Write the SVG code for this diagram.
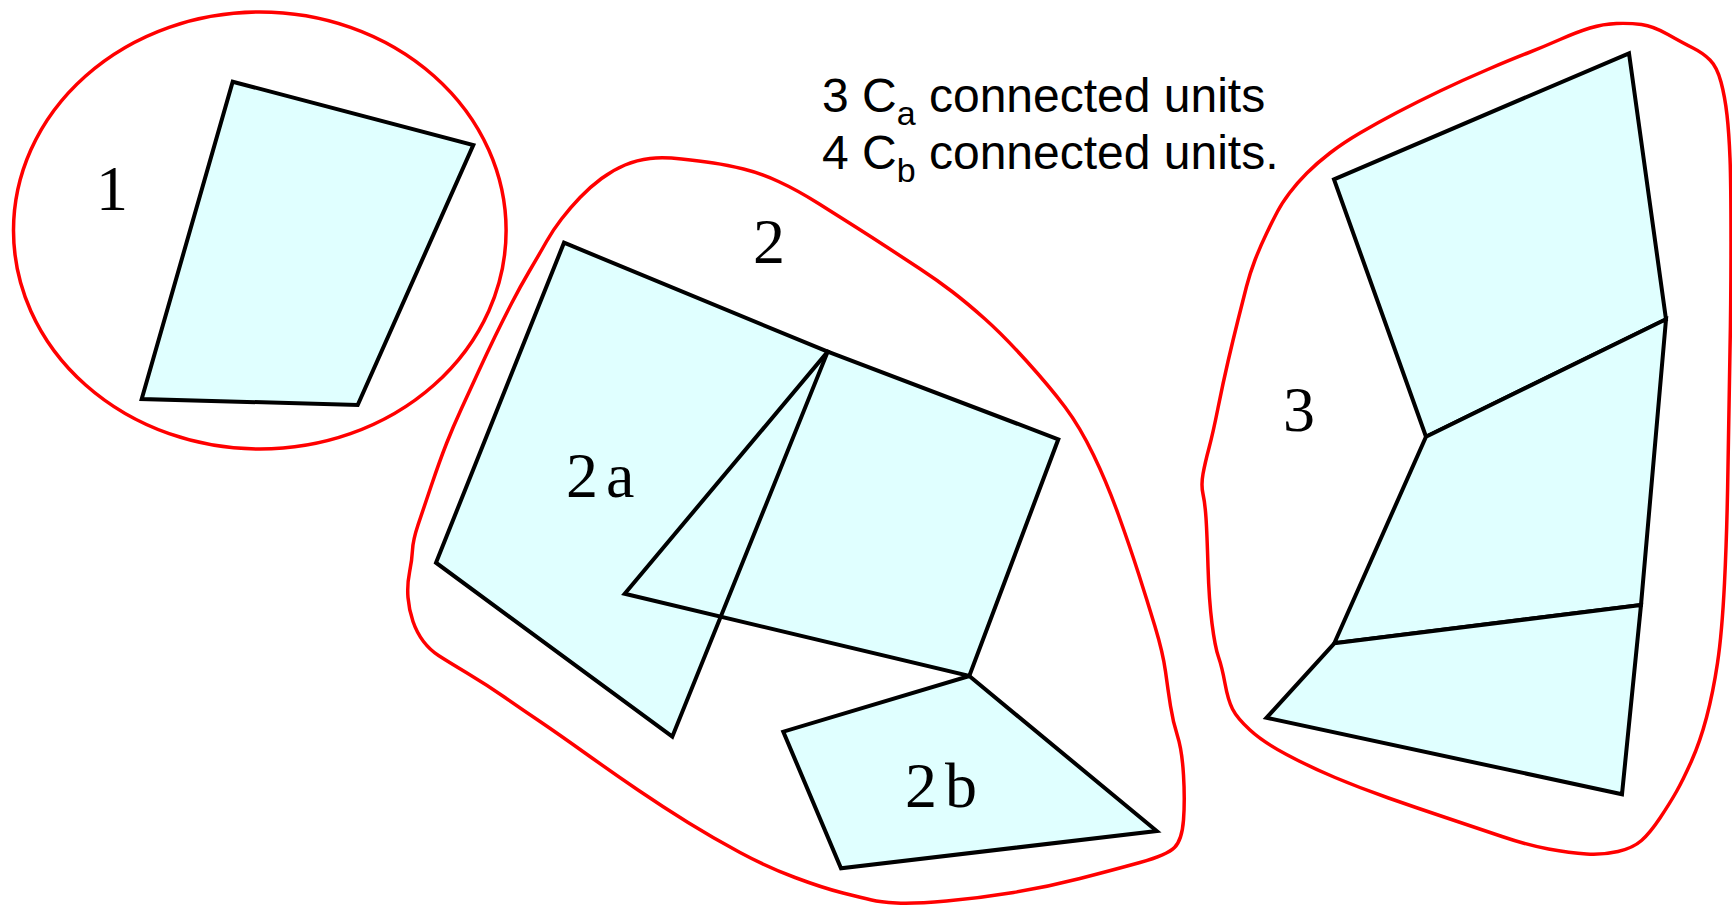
<svg xmlns="http://www.w3.org/2000/svg" width="1732" height="905" viewBox="0 0 1732 905">
  <style>
    .cell { fill: #e0ffff; stroke: none; }
    .edge { fill: none; stroke: #000; stroke-width: 4; stroke-linejoin: miter; }
    .cellE { fill: #e0ffff; stroke: #000; stroke-width: 4; stroke-linejoin: miter; }
    .hull { fill: none; stroke: #ff0000; stroke-width: 3.5; stroke-linejoin: round; }
    .lbl { font-family: "Liberation Serif", "Times New Roman", serif; font-size: 64px; fill: #000; }
    .note { font-family: "Liberation Sans", Arial, sans-serif; font-size: 48px; fill: #000; }
  </style>
  <rect width="1732" height="905" fill="#ffffff"/>

  <g id="cluster-1">
    <ellipse class="hull" cx="259.8" cy="230.5" rx="246.3" ry="218.5"/>
    <polygon class="cellE" points="232.7,81.7 473.3,145 357.7,405 141.7,399"/>
    <text class="lbl" x="96" y="210">1</text>
  </g>

  <g id="cluster-2">
    <path class="hull" d="M650,158.5 Q663,157 681.5,159 Q700,161 713.5,163 Q727,165 743.5,169 Q760,173 778.5,181.5 Q797,190 818.5,203.5 Q840,217 856.5,227.5 Q873,238 887.5,247.5 Q902,257 919.5,268.5 Q937,280 952,291.5 Q967,303 985,319 Q1003,335 1026.5,361 Q1050,387 1065,407 Q1080,427 1093.5,455 Q1107,483 1118.5,515 Q1130,547 1138.5,573.5 Q1147,600 1155,626.5 Q1163,653 1165.5,671.5 Q1168,690 1170.5,706 Q1173,722 1177.5,736 Q1182,750 1183.5,775 Q1185,800 1183.5,820 Q1182,840 1174.5,847.5 Q1167,855 1140,862.5 Q1113,870 1080,878.5 Q1047,887 1013.5,892.5 Q980,898 946.5,901 Q913,904 896.5,903 Q880,902 871.5,900 Q863,898 843,893 Q823,888 795,877.5 Q767,867 740,852.5 Q713,838 688,822.5 Q663,807 638,790 Q613,773 585,753 Q557,733 540,721.5 Q523,710 505,697.5 Q487,685 467,673 Q447,661 438.5,655.5 Q430,650 423.5,641.5 Q417,633 413,621.5 Q409,610 408,597.5 Q407,585 409.5,572.5 Q412,560 412.5,550 Q413,540 418,525 Q423,510 431.5,485 Q440,460 446.5,443.5 Q453,427 461.5,408.5 Q470,390 478.5,371.5 Q487,353 495,336.5 Q503,320 511.5,303.5 Q520,287 530,270 Q540,253 546.5,241.5 Q553,230 561.5,219 Q570,208 580,197.5 Q590,187 601.5,178.5 Q613,170 625,165 Q637,160 650,158.5 Z"/>
    <text class="lbl" x="753" y="263">2</text>
    <g id="unit-2a">
      <polygon class="cell" points="564,242.7 827.7,351.7 672.3,736.7 436,562.7"/>
      <polygon class="cell" points="827.7,351.7 1058.3,439.3 969.3,676 624.7,593.7"/>
      <polygon class="edge" points="564,242.7 827.7,351.7 672.3,736.7 436,562.7"/>
      <polygon class="edge" points="827.7,351.7 1058.3,439.3 969.3,676 624.7,593.7"/>
      <text class="lbl" x="566" y="497" style="word-spacing:-8px">2 a</text>
    </g>
    <g id="unit-2b">
      <polygon class="cellE" points="969.3,676 1156.7,831 841,868.3 783.3,731.7"/>
      <text class="lbl" x="905" y="806.5" style="word-spacing:-8px">2 b</text>
    </g>
  </g>

  <g id="cluster-3">
    <path class="hull" d="M1616.5,23.5 Q1630,23 1641.5,24.5 Q1653,26 1668,34.5 Q1683,43 1693,48 Q1703,53 1710,60 Q1717,67 1721,82 Q1725,97 1727,115 Q1729,133 1730,158 Q1731,183 1731,241.5 Q1731,300 1730,350 Q1729,400 1728,466.5 Q1727,533 1724.5,583 Q1722,633 1717.5,663 Q1713,693 1706.5,717.5 Q1700,742 1691.5,761 Q1683,780 1676.5,791.5 Q1670,803 1660,818 Q1650,833 1641.5,840.5 Q1633,848 1618,851.5 Q1603,855 1586.5,854 Q1570,853 1548.5,849 Q1527,845 1502,836.5 Q1477,828 1447,818 Q1417,808 1388.5,798 Q1360,788 1335,777.5 Q1310,767 1286.5,754.5 Q1263,742 1250,730 Q1237,718 1232.5,709 Q1228,700 1225,683.5 Q1222,667 1218.5,657 Q1215,647 1212,623.5 Q1209,600 1208,566.5 Q1207,533 1206,518 Q1205,503 1203,494 Q1201,485 1203,474 Q1205,463 1209,448 Q1213,433 1218,408 Q1223,383 1228,361.5 Q1233,340 1238,320 Q1243,300 1246.5,286.5 Q1250,273 1255,260 Q1260,247 1266.5,233.5 Q1273,220 1277.5,211.5 Q1282,203 1289.5,193 Q1297,183 1307,173 Q1317,163 1330,153 Q1343,143 1360,133 Q1377,123 1397,112.5 Q1417,102 1440,91 Q1463,80 1486.5,70 Q1510,60 1526.5,53.5 Q1543,47 1560,39.5 Q1577,32 1590,28 Q1603,24 1616.5,23.5 Z"/>
    <g id="unit-3-top">
      <polygon class="cellE" points="1334,179.3 1629,53.3 1666,319.3 1426,436.7"/>
    </g>
    <g id="unit-3-mid">
      <polygon class="cellE" points="1426,436.7 1666,319.3 1641,605 1334.3,643.3"/>
    </g>
    <g id="unit-3-bot">
      <polygon class="cellE" points="1334.3,643.3 1641,605 1622,794.2 1266.5,717.8"/>
    </g>
    <text class="lbl" x="1283" y="431">3</text>
  </g>

  <g id="note">
    <text class="note" x="822" y="112">3 C<tspan font-size="34" dy="13">a</tspan><tspan dy="-13"> connected units</tspan></text>
    <text class="note" x="822" y="169">4 C<tspan font-size="34" dy="13">b</tspan><tspan dy="-13"> connected units.</tspan></text>
  </g>
</svg>
